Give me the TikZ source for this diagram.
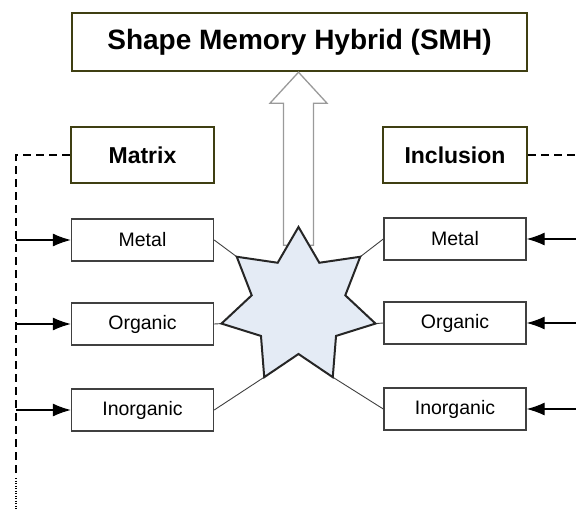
\documentclass[tikz,border=0pt]{standalone}
\usepackage{fontspec}
\setmainfont{Liberation Sans}
\usetikzlibrary{arrows.meta}
\definecolor{olivedk}{HTML}{3F3F12}
\definecolor{boxgray}{HTML}{404040}
\definecolor{starfill}{HTML}{E4EBF5}
\definecolor{arrowgray}{HTML}{9A9A9A}
\begin{document}
\begin{tikzpicture}[x=1pt,y=-1pt,
  headbox/.style={draw=olivedk, line width=2.4pt, fill=white, inner sep=0pt,
    font=\fontsize{23}{26}\selectfont\bfseries},
  itembox/.style={draw=boxgray, line width=1.4pt, fill=white, inner sep=0pt,
    minimum width=142pt, minimum height=42pt, font=\fontsize{19.5}{22}\selectfont},
  feed/.style={line width=1.1pt, -{Latex[length=18pt,width=13pt]}},
  link/.style={draw=boxgray, line width=0.9pt},
  guide/.style={line width=1.1pt, dash pattern=on 8pt off 5pt},
  starstyle/.style={draw=black!85, line width=2pt, fill=starfill, line join=miter},
  hollow/.style={draw=arrowgray, line width=1.3pt, fill=white, line join=miter}]
\useasboundingbox (0,0) rectangle (576,509);

% headings
\node[headbox, minimum width=455pt, minimum height=58pt, font=\fontsize{28}{31}\selectfont\bfseries]
  (title) at (299.5,42) {Shape Memory Hybrid (SMH)};
\node[headbox, minimum width=143pt, minimum height=56pt] (matrix) at (142.5,155) {Matrix};
\node[headbox, minimum width=144pt, minimum height=56pt] (incl) at (455,155) {Inclusion};

% constituent boxes
\node[itembox] (lmetal) at (142.5,240) {Metal};
\node[itembox] (lorg)   at (142.5,324) {Organic};
\node[itembox] (linorg) at (142.5,410) {Inorganic};
\node[itembox] (rmetal) at (455,239) {Metal};
\node[itembox] (rorg)   at (455,323) {Organic};
\node[itembox] (rinorg) at (455,409) {Inorganic};

% seven-pointed star
\coordinate (hub) at (298.5,306);
\foreach \k in {0,...,6} {
  \coordinate (o\k) at ({298.5+79*sin(\k*360/7)},{306-79*cos(\k*360/7)});
  \coordinate (i\k) at ({298.5+48*sin((\k+0.5)*360/7)},{306-48*cos((\k+0.5)*360/7)});
}

% hollow arrow from the star up to the title
\coordinate (tip) at (hub |- title.south);
\draw[hollow] (tip) -- ++(28.5,31) -- ++(-13.5,0) -- ++(0,142) -- ++(-30,0)
  -- ++(0,-142) -- ++(-13.5,0) -- cycle;

% links between boxes and star points
\draw[link] (lmetal.east) -- (o6);
\draw[link] (lorg.east) -- (o5);
\draw[link] (linorg.east) -- (o4);
\draw[link] (rmetal.west) -- (o1);
\draw[link] (rorg.west) -- (o2);
\draw[link] (rinorg.west) -- (o3);

\draw[starstyle] (o0) -- (i0) -- (o1) -- (i1) -- (o2) -- (i2) -- (o3) -- (i3)
  -- (o4) -- (i4) -- (o5) -- (i5) -- (o6) -- (i6) -- cycle;

% matrix feed line
\coordinate (gbend) at (16,155);
\coordinate (gfoot) at (16,478);
\coordinate (gend) at (16,509);
\draw[guide] (matrix.west) -- (gbend) -- (gfoot);
\draw[line width=1.1pt, dash pattern=on 1.2pt off 1.3pt] (gfoot) -- (gend);
\draw[feed] (gbend |- lmetal) -- (lmetal);
\draw[feed] (gbend |- lorg) -- (lorg);
\draw[feed] (gbend |- linorg) -- (linorg);

% inclusion feed line
\coordinate (redge) at (576,155);
\draw[guide] (incl.east) -- (redge);
\draw[feed] (redge |- rmetal) -- (rmetal);
\draw[feed] (redge |- rorg) -- (rorg);
\draw[feed] (redge |- rinorg) -- (rinorg);
\end{tikzpicture}
\end{document}
